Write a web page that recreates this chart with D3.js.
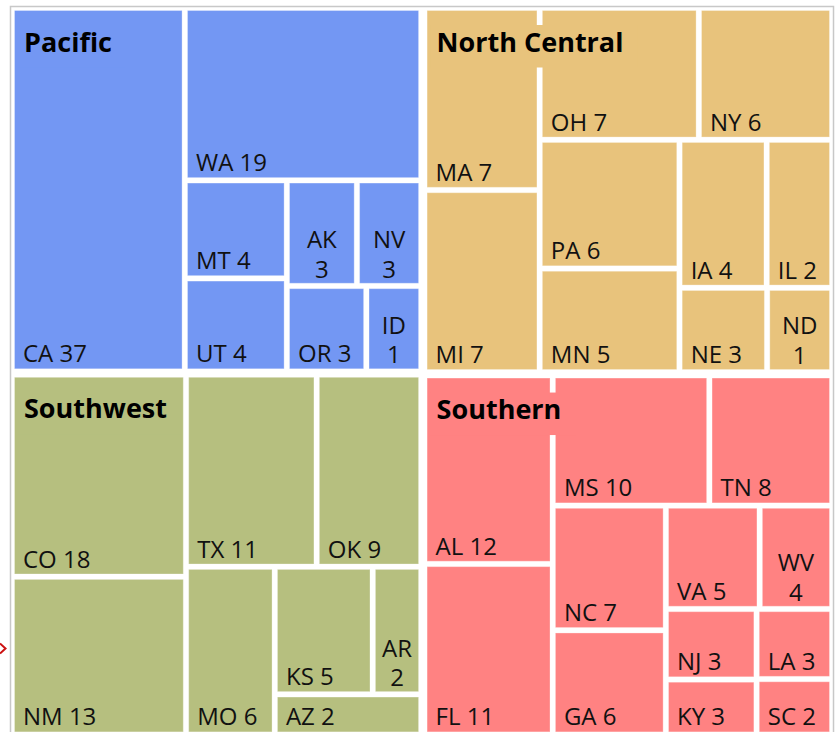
<!DOCTYPE html>
<html>
<head>
<meta charset="utf-8">
<script src="https://cdn.jsdelivr.net/npm/d3@7"></script>
<style>
    body { margin: 0; background: #fff; }
    #treemap svg { display: block; font-family: 'Open Sans', Lato, sans-serif; }
</style>
</head>
<body>
<div id="treemap"></div>
<script>
// Data: the label shows the count, the tile area follows the size
const regionNames = ['Pacific', 'Southwest', 'North Central', 'Southern'];
const regionColors = ['#7397f3', '#b6bf7f', '#e8c37c', '#ff8282'];

const pacificStates = ['CA', 'WA', 'MT', 'UT', 'AK', 'NV', 'OR', 'ID'];
const pacificCounts = [37, 19, 4, 4, 3, 3, 3, 1];
const pacificSizes = [629, 408, 100, 95, 74, 68, 68, 47];

const southwestStates = ['CO', 'NM', 'TX', 'OK', 'MO', 'KS', 'AR', 'AZ'];
const southwestCounts = [18, 13, 11, 9, 6, 5, 2, 2];
const southwestSizes = [352, 275, 251, 201, 149, 125, 62, 59];

const northCentralStates = ['MA', 'MI', 'OH', 'NY', 'PA', 'MN', 'IA', 'IL', 'NE', 'ND'];
const northCentralCounts = [7, 7, 7, 6, 6, 5, 4, 2, 3, 1];
const northCentralSizes = [210, 210, 210, 176, 180, 145, 129, 97, 74, 55];

const southernStates = ['AL', 'FL', 'MS', 'TN', 'NC', 'GA', 'VA', 'WV', 'NJ', 'KY', 'LA', 'SC'];
const southernCounts = [12, 11, 10, 8, 7, 6, 5, 4, 3, 3, 3, 2];
const southernSizes = [242, 219, 204, 160, 141, 118, 97, 75, 64, 50, 53, 42];

// number of tiles in each strip of the squarified layout
const pacificRows = [1, 1, 2, 2, 1, 1];
const southwestRows = [2, 2, 1, 2, 1];
const northCentralRows = [2, 2, 2, 2, 1, 1];
const southernRows = [2, 2, 2, 2, 2, 1, 1];

const regionStates = [pacificStates, southwestStates, northCentralStates, southernStates];
const regionCounts = [pacificCounts, southwestCounts, northCentralCounts, southernCounts];
const regionSizes = [pacificSizes, southwestSizes, northCentralSizes, southernSizes];
const regionRows = [pacificRows, southwestRows, northCentralRows, southernRows];

const width = 838;
const height = 732;
const marginLeft = 14;
const marginTop = 10;
const innerWidth = 816;
const innerHeight = 722.4;

const tree = {
    name: 'root',
    children: regionNames.map((name, r) => ({
        name: name,
        color: regionColors[r],
        rows: regionRows[r],
        children: regionStates[r].map((s, i) => ({
            name: s,
            count: regionCounts[r][i],
            size: regionSizes[r][i]
        }))
    }))
};

// lay the children out strip by strip, like squarify does, but with fixed strips
function stripTile(node, x0, y0, x1, y1) {
    if (!node.data.rows) return d3.treemapBinary(node, x0, y0, x1, y1);
    let value = node.value;
    let i = 0;
    for (const n of node.data.rows) {
        const kids = node.children.slice(i, i + n);
        const row = { children: kids, value: d3.sum(kids, d => d.value) };
        const dx = x1 - x0, dy = y1 - y0;
        if (dx < dy) {
            const yk = y0 + dy * row.value / value;
            d3.treemapDice(row, x0, y0, x1, yk);
            y0 = yk;
        } else {
            const xk = x0 + dx * row.value / value;
            d3.treemapSlice(row, x0, y0, xk, y1);
            x0 = xk;
        }
        value -= row.value;
        i += n;
    }
}

const root = d3.hierarchy(tree).sum(d => d.size || 0);

d3.treemap()
    .size([innerWidth, innerHeight])
    .tile(stripTile)
    .paddingOuter(0)
    .paddingInner(d => d.depth === 0 ? 7.5 : 4.4)
    (root);

const svg = d3.select('#treemap')
    .append('svg')
    .attr('width', width)
    .attr('height', height);

// frame
svg.append('rect')
    .attr('x', marginLeft - 3.5)
    .attr('y', marginTop - 3.5)
    .attr('width', innerWidth + 7)
    .attr('height', innerHeight + 7)
    .attr('fill', 'none')
    .attr('stroke', '#c8c8c8')
    .attr('stroke-width', 1.5);

// little red marker on the left edge
svg.append('path')
    .attr('d', 'M0,643.5L5.5,648.5L0,653.5')
    .attr('fill', 'none')
    .attr('stroke', '#cc1111')
    .attr('stroke-width', 2);

const g = svg.append('g')
    .attr('transform', `translate(${marginLeft},${marginTop})`);

// tiles
const leaf = g.selectAll('g.leaf')
    .data(root.leaves())
    .join('g')
    .attr('class', 'leaf');

leaf.append('rect')
    .attr('x', d => d.x0 + 0.5)
    .attr('y', d => d.y0 + 0.5)
    .attr('width', d => d.x1 - d.x0 - 1)
    .attr('height', d => d.y1 - d.y0 - 1)
    .attr('fill', d => d.parent.data.color)
    .attr('stroke', '#fff')
    .attr('stroke-opacity', 0.3)
    .attr('stroke-width', 1);

// tile labels, bottom left, split in two centred lines if too wide
leaf.each(function (d) {
    const label = d3.select(this).append('text')
        .attr('x', d.x0 + 9)
        .attr('y', d.y1 - 7)
        .attr('fill', '#111')
        .style('font-size', '24px')
        .text(`${d.data.name} ${d.data.count}`);

    const w = d.x1 - d.x0;
    if (label.node().getComputedTextLength() > w - 20) {
        const cx = (d.x0 + d.x1) / 2;
        label.text(null).attr('text-anchor', 'middle');
        label.append('tspan')
            .attr('x', cx)
            .attr('y', d.y1 - 35.6)
            .text(d.data.name);
        label.append('tspan')
            .attr('x', cx)
            .attr('y', d.y1 - 6)
            .text(d.data.count);
    }
});

// region titles with a patch of the region colour behind them
const title = g.selectAll('g.title')
    .data(root.children)
    .join('g')
    .attr('class', 'title');

title.each(function (d) {
    const t = d3.select(this);
    const patch = t.append('rect')
        .attr('fill', d.data.color);
    const txt = t.append('text')
        .attr('x', d.x0 + 10)
        .attr('y', d.y0 + 41.7)
        .attr('fill', '#000')
        .style('font-size', '27px')
        .style('font-weight', 700)
        .text(d.data.name);
    const tw = txt.node().getComputedTextLength();
    patch
        .attr('x', d.x0 + 4)
        .attr('y', d.y0 + 15)
        .attr('width', tw + 20)
        .attr('height', 42.5);
});
</script>
</body>
</html>
